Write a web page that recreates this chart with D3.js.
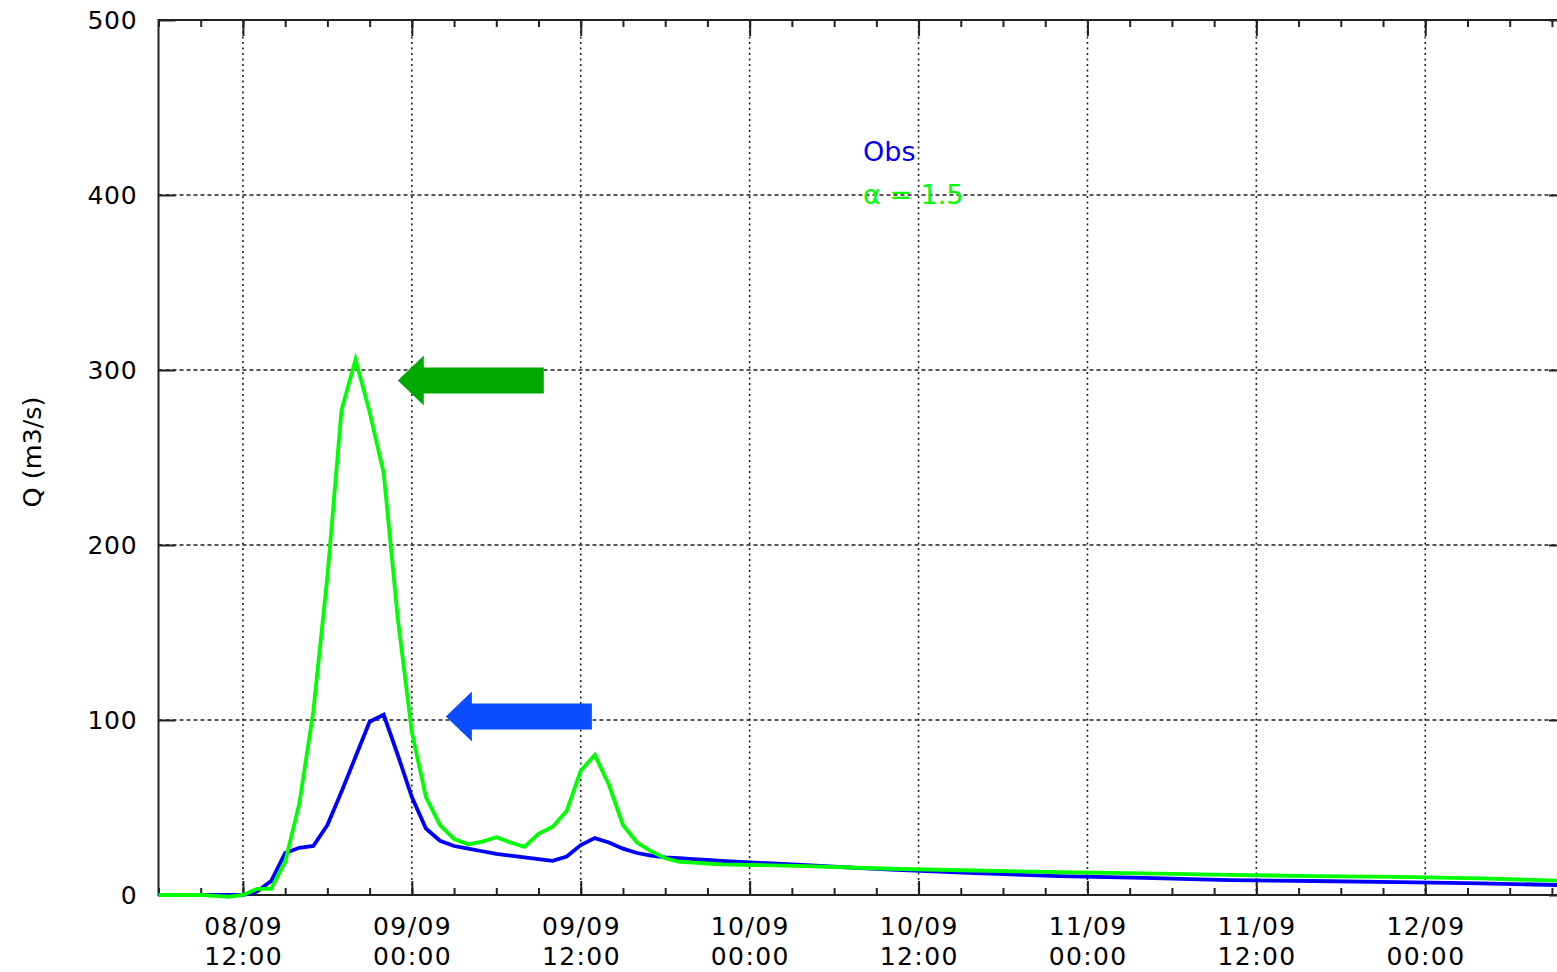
<!DOCTYPE html>
<html>
<head>
<meta charset="utf-8">
<script src="https://cdn.jsdelivr.net/npm/d3@7"></script>
<style>
  html, body { margin: 0; padding: 0; background: #fff; }
  svg { display: block; }
  text { font-family: "DejaVu Sans", sans-serif; }
</style>
</head>
<body>
<svg id="chart" width="1557" height="972"></svg>
<script>
// ---- data ----
const times = [
  "2002-09-08T05:00","2002-09-08T06:00","2002-09-08T07:00","2002-09-08T08:00","2002-09-08T09:00",
  "2002-09-08T10:00","2002-09-08T11:00","2002-09-08T12:00","2002-09-08T13:00","2002-09-08T14:00",
  "2002-09-08T15:00","2002-09-08T16:00","2002-09-08T17:00","2002-09-08T18:00","2002-09-08T19:00",
  "2002-09-08T20:00","2002-09-08T21:00","2002-09-08T22:00","2002-09-08T23:00","2002-09-09T00:00",
  "2002-09-09T01:00","2002-09-09T02:00","2002-09-09T03:00","2002-09-09T04:00","2002-09-09T05:00",
  "2002-09-09T06:00","2002-09-09T07:00","2002-09-09T08:00","2002-09-09T09:00","2002-09-09T10:00",
  "2002-09-09T11:00","2002-09-09T12:00","2002-09-09T13:00","2002-09-09T14:00","2002-09-09T15:00",
  "2002-09-09T16:00","2002-09-09T17:00","2002-09-09T18:00","2002-09-09T19:00","2002-09-09T20:00",
  "2002-09-09T21:00","2002-09-09T22:00",
  "2002-09-10T04:00","2002-09-10T10:00","2002-09-10T16:00","2002-09-10T22:00",
  "2002-09-11T04:00","2002-09-11T10:00","2002-09-11T16:00","2002-09-11T22:00",
  "2002-09-12T04:00","2002-09-12T10:00"
];
const obsValues = [
  0,0,0,0,0, 0,0,0,2,8,
  24,27,28,40,59, 79,99,103,80,56,
  38,31,28,26.5,25, 23.5,22.5,21.5,20.5,19.5,
  22,28.5,32.5,30,26.5, 24,22.5,21.5,21,20.5,
  20,19.5,
  17,14.5,12.5,10.8, 9.8,8.5,8,7.4, 6.7,5.6
];
const simValues = [
  0,0,0,0,0, -0.5,-1,0,3.5,3.5,
  19,52,105,182,277, 306,276,241,158,93,
  56,40,32,29,30.5, 33,30,27.5,35,39,
  48,71,80,63,40, 30,25,21,19,18.5,
  18,17.5,
  16.5,15,14,13, 12.3,11.5,10.8,10.3, 9.5,8
];
const seriesNames = ["Obs", "\u03b1 = 1.5"];
const seriesColors = ["#0000ff", "#00ff00"];
const yTicks = [0, 100, 200, 300, 400, 500];
const xMajorTicks = ["2002-09-08T12:00","2002-09-09T00:00","2002-09-09T12:00","2002-09-10T00:00",
                     "2002-09-10T12:00","2002-09-11T00:00","2002-09-11T12:00","2002-09-12T00:00"];
const xTickLine1 = ["08/09","09/09","09/09","10/09","10/09","11/09","11/09","12/09"];
const xTickLine2 = ["12:00","00:00","12:00","00:00","12:00","00:00","12:00","00:00"];
const xDomain = ["2002-09-08T06:00", "2002-09-12T10:00"];
// annotation arrows: tip position in data units
const arrowTips = [
  { time: "2002-09-08T23:00", value: 294, color: "#00aa00" },
  { time: "2002-09-09T02:25", value: 102, color: "#0a4cff" }
];

// ---- layout ----
const parse = d3.utcParse("%Y-%m-%dT%H:%M");
const L = 158.5, R = 1566, T = 20, B = 895;
const svg = d3.select("#chart");

const x = d3.scaleUtc().domain(xDomain.map(parse)).range([L, R]);
const y = d3.scaleLinear().domain([0, 500]).range([B, T]);

svg.append("defs").append("clipPath").attr("id", "plotclip")
  .append("rect").attr("x", L).attr("y", T - 5).attr("width", R - L).attr("height", B - T + 10);

// grid
const grid = svg.append("g");
grid.selectAll("line.gx").data(xMajorTicks.map(parse)).join("line")
  .attr("x1", d => x(d)).attr("x2", d => x(d)).attr("y1", T).attr("y2", B)
  .attr("stroke", "#222").attr("stroke-width", 1.6).attr("stroke-dasharray", "2,3.5");
grid.selectAll("line.gy").data(yTicks.filter(v => v > 0 && v < 500)).join("line")
  .attr("x1", L).attr("x2", R).attr("y1", d => y(d)).attr("y2", d => y(d))
  .attr("stroke", "#222").attr("stroke-width", 1.6).attr("stroke-dasharray", "4,3");

// minor ticks every 3 hours
const minorTicks = d3.utcHour.every(3).range(parse(xDomain[0]), parse(xDomain[1]));

function styleAxis(g) {
  g.select(".domain").remove();
  g.selectAll(".tick line").attr("stroke", "#222").attr("stroke-width", 2);
}
// bottom
svg.append("g").attr("transform", `translate(0,${B})`)
  .call(d3.axisBottom(x).tickValues(minorTicks).tickSize(-7).tickFormat(""))
  .call(styleAxis);
svg.append("g").attr("transform", `translate(0,${B})`)
  .call(d3.axisBottom(x).tickValues(xMajorTicks.map(parse)).tickSize(-14).tickFormat(""))
  .call(styleAxis);
// top
svg.append("g").attr("transform", `translate(0,${T})`)
  .call(d3.axisTop(x).tickValues(minorTicks).tickSize(-7).tickFormat(""))
  .call(styleAxis);
svg.append("g").attr("transform", `translate(0,${T})`)
  .call(d3.axisTop(x).tickValues(xMajorTicks.map(parse)).tickSize(-16).tickFormat(""))
  .call(styleAxis);
// left
const yAxisG = svg.append("g").attr("transform", `translate(${L},0)`)
  .call(d3.axisLeft(y).tickValues(yTicks).tickSize(-17).tickPadding(21).tickFormat(d3.format("d")))
  .call(styleAxis);
yAxisG.selectAll(".tick text").attr("font-size", 25).attr("fill", "#000")
  .attr("font-family", "DejaVu Sans").attr("dy", "0.33em").attr("letter-spacing", "0.8px");
// right
svg.append("g").attr("transform", `translate(${R},0)`)
  .call(d3.axisRight(y).tickValues(yTicks).tickSize(-17).tickFormat(""))
  .call(styleAxis);

// frame
svg.append("path")
  .attr("d", `M${R},${T}H${L}V${B}H${R}`)
  .attr("fill", "none").attr("stroke", "#222").attr("stroke-width", 2);

// x labels
const xl = svg.append("g").attr("font-size", 25).attr("fill", "#000").attr("text-anchor", "middle")
  .attr("letter-spacing", "1.4px");
xMajorTicks.forEach((t, i) => {
  xl.append("text").attr("x", x(parse(t)) + 0.7).attr("y", 935).text(xTickLine1[i]);
  xl.append("text").attr("x", x(parse(t)) + 0.7).attr("y", 965).text(xTickLine2[i]);
});

// y title
svg.append("text").attr("transform", "translate(41,452) rotate(-90)")
  .attr("text-anchor", "middle").attr("font-size", 25.5).attr("fill", "#000").text("Q (m3/s)");

// series
const line = d3.line().x(d => x(d[0])).y(d => y(d[1]));
const plot = svg.append("g").attr("clip-path", "url(#plotclip)");
[obsValues, simValues].forEach((vals, i) => {
  const pts = times.map((t, k) => [parse(t), vals[k]]);
  plot.append("path").datum(pts).attr("d", line)
    .attr("fill", "none").attr("stroke", seriesColors[i]).attr("stroke-width", 3.8)
    .attr("stroke-linejoin", "miter");
});

// legend
const lg = svg.append("g").attr("font-size", 27);
seriesNames.forEach((n, i) => {
  lg.append("text").attr("x", 863).attr("y", 161 + i * 43).attr("fill", seriesColors[i]).text(n);
});

// arrows (pointing left)
arrowTips.forEach(a => {
  const tx = x(parse(a.time)), ty = y(a.value);
  const headL = 26, headH = 25, shaftH = 13, len = 146;
  const d = `M${tx},${ty} L${tx + headL},${ty - headH} L${tx + headL},${ty - shaftH} L${tx + len},${ty - shaftH}
             L${tx + len},${ty + shaftH} L${tx + headL},${ty + shaftH} L${tx + headL},${ty + headH} Z`;
  svg.append("path").attr("d", d).attr("fill", a.color);
});
</script>
</body>
</html>
